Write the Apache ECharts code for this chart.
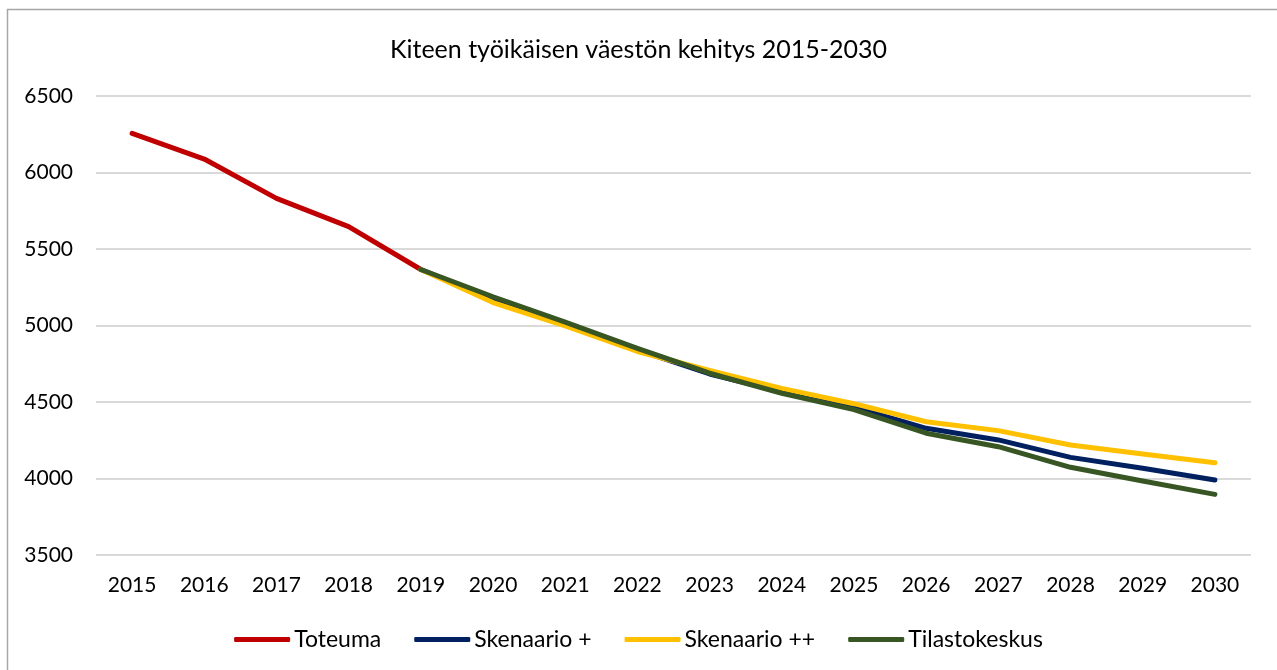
<!DOCTYPE html>
<html>
<head>
<meta charset="utf-8">
<script src="https://cdn.jsdelivr.net/npm/echarts@6/dist/echarts.min.js"></script>
<style>html,body{margin:0;padding:0;background:#fff;}#c{width:1277px;height:670px;}</style>
</head>
<body>
<div id="c"></div>
<script>
const years = ['2015','2016','2017','2018','2019','2020','2021','2022','2023','2024','2025','2026','2027','2028','2029','2030'];
const toteuma = [6256, 6088, 5831, 5646, 5366, null, null, null, null, null, null, null, null, null, null, null];
const skenaarioPlus = [null, null, null, null, 5366, 5170, 5008, 4840, 4683, 4566, 4467, 4328, 4252, 4138, 4067, 3990];
const skenaarioPlusPlus = [null, null, null, null, 5366, 5150, 4997, 4830, 4706, 4589, 4489, 4371, 4313, 4219, 4160, 4103];
const tilastokeskus = [null, null, null, null, 5366, 5188, 5022, 4851, 4688, 4557, 4450, 4296, 4208, 4073, 3984, 3896];
const yTicks = {min: 3500, max: 6500, interval: 500};

const FONT = 'Lato';
const chart = echarts.init(document.getElementById('c'));
function line(name, data, color) {
  return {
    name, type: 'line', data, showSymbol: false, symbol: 'none',
    lineStyle: {color, width: 5, cap: 'round', join: 'round'},
    itemStyle: {color},
    connectNulls: false, animation: false
  };
}
chart.setOption({
  animation: false,
  textStyle: {fontFamily: FONT},
  title: {
    text: 'Kiteen työikäisen väestön kehitys 2015-2030',
    left: 'center', top: 32,
    textStyle: {fontFamily: FONT, fontSize: 25, fontWeight: 'normal', color: '#000'}
  },
  graphic: [{
    type: 'rect', shape: {x: 7.5, y: 9.5, width: 1400, height: 800},
    style: {fill: 'none', stroke: '#a6a6a6', lineWidth: 1.5}, silent: true, z: -1
  }],
  legend: {
    bottom: 14, left: 'center',
    itemWidth: 56, itemHeight: 5, itemGap: 33,
    icon: 'roundRect',
    textStyle: {fontFamily: FONT, fontSize: 23, color: '#000', padding: [0, 0, 0, -1]},
    data: ['Toteuma', 'Skenaario +', 'Skenaario ++', 'Tilastokeskus']
  },
  grid: {left: 96, right: 26, top: 96, bottom: 115},
  xAxis: {
    type: 'category', data: years, boundaryGap: true,
    axisLine: {show: false}, axisTick: {show: false},
    axisLabel: {fontFamily: FONT, fontSize: 21, color: '#000', margin: 20}
  },
  yAxis: {
    type: 'value', min: yTicks.min, max: yTicks.max, interval: yTicks.interval,
    axisLine: {show: false}, axisTick: {show: false},
    axisLabel: {fontFamily: FONT, fontSize: 21, color: '#000', margin: 23, formatter: v => String(v)},
    splitLine: {lineStyle: {color: '#d9d9d9', width: 2}}
  },
  series: [
    line('Toteuma', toteuma, '#C00000'),
    line('Skenaario +', skenaarioPlus, '#002060'),
    line('Skenaario ++', skenaarioPlusPlus, '#FFC000'),
    line('Tilastokeskus', tilastokeskus, '#375623')
  ]
});
</script>
</body>
</html>
